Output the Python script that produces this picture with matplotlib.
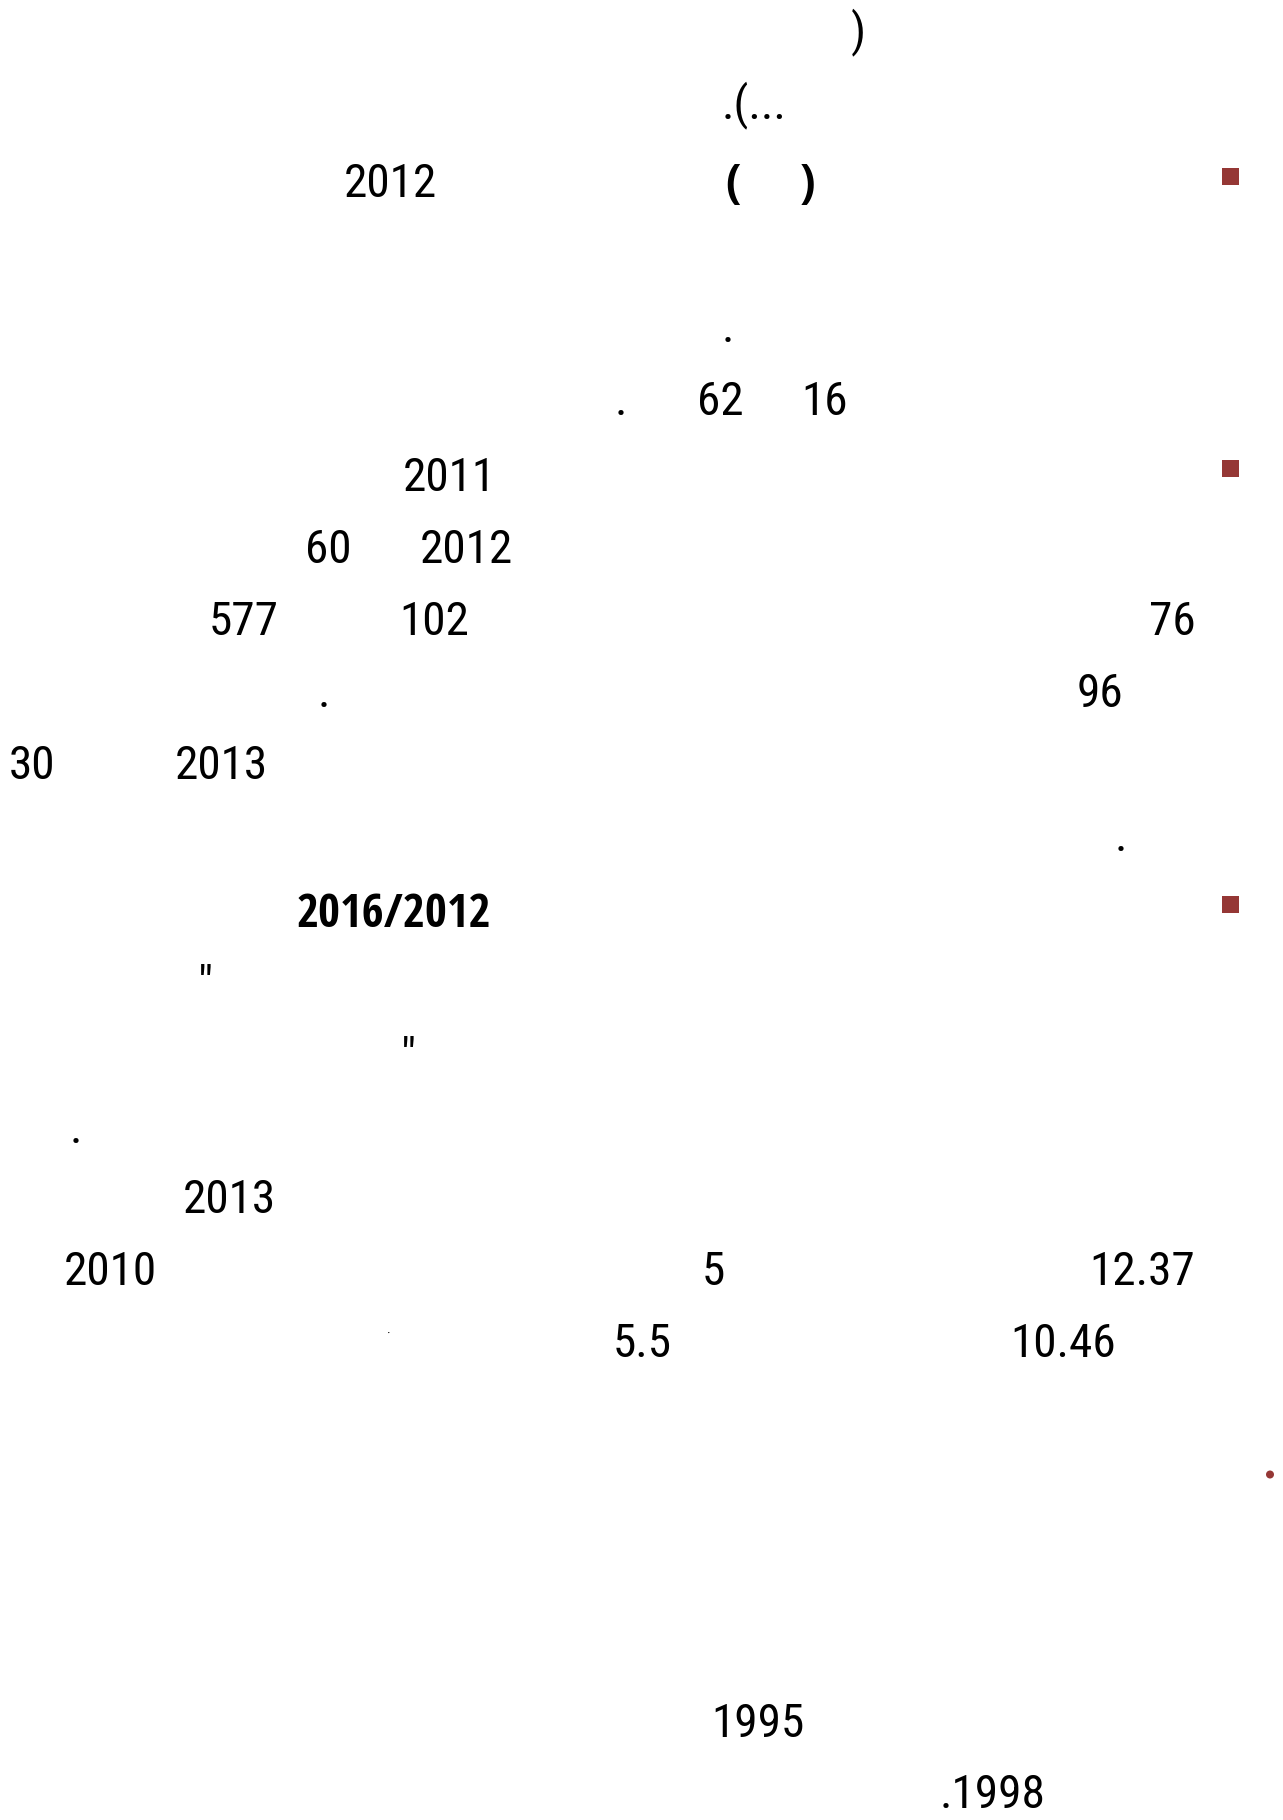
# Page of Arabic text where only digits and punctuation survived
import matplotlib.pyplot as plt
from matplotlib.patches import Rectangle, Circle

# Text pieces (content only)
plain_texts = [")", ".(...", "2012", ".", ".", "62", "16",
               "2011", "60", "2012", "577", "102", "76",
               ".", "96", "30", "2013", ".",
               "\"", "\"", ".", "2013",
               "2010", "5", "12.37", "5.5", "10.46",
               "1995", ".1998"]
bold_texts = ["(", ")", "2016/2012"]

# Layout in pixels: left edge and baseline for each piece
plain_x = [851, 722, 344, 722, 615, 697, 801,
           403, 305, 420, 209, 399, 1149,
           318, 1077, 9, 175, 1115,
           198, 401, 70, 183,
           64, 702, 1089, 613, 1010,
           711, 940]
plain_y = [45, 118, 197, 342, 415, 415, 415,
           491, 563, 563, 635, 635, 635,
           707, 707, 779, 779, 851,
           999, 1071, 1143, 1213,
           1285, 1285, 1285, 1357, 1357,
           1737, 1808]
bold_x = [725, 800, 297]
bold_y = [197, 197, 927]

bullet_y = [176.5, 468.5, 904.5]
bullet_x = 1230.5
dot_xy = (1270, 1474.5)

W, H = 1283, 1820
fig = plt.figure(figsize=(W / 100, H / 100), dpi=100)
ax = fig.add_axes([0, 0, 1, 1])
ax.set_xlim(0, W)
ax.set_ylim(H, 0)
ax.axis("off")

fam = ["Roboto Condensed", "DejaVu Sans"]
fam_bold = ["Open Sans Condensed", "DejaVu Sans"]
for t, x, y in zip(plain_texts, plain_x, plain_y):
    ax.text(x, y, t, fontsize=34, family=fam, fontweight="normal", ha="left", va="baseline", color="black")
for t, x, y in zip(bold_texts, bold_x, bold_y):
    ax.text(x, y, t, fontsize=34, family=fam_bold, fontweight="bold", ha="left", va="baseline", color="black")

# tiny mark in the 5.5 line
ax.text(389, 1335, "\u00b7", fontsize=10, family=fam, ha="center", va="center", color="black")

red = "#953735"
for by in bullet_y:
    ax.add_patch(Rectangle((bullet_x - 8.5, by - 8.5), 17, 17, color=red, lw=0))
ax.add_patch(Circle(dot_xy, 4, color=red, lw=0))

fig.savefig("out.png", dpi=100, facecolor="white")
